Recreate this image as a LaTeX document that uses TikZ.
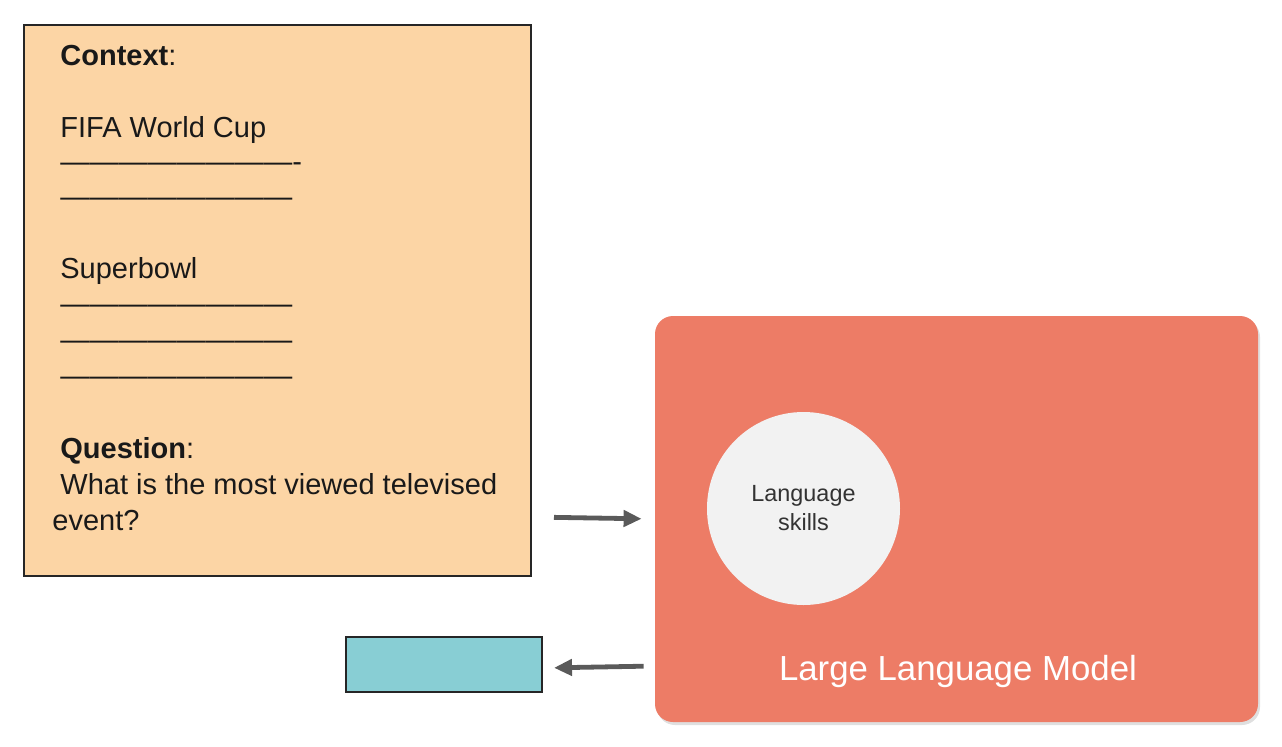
\documentclass[tikz,border=0pt]{standalone}
\usepackage{fontspec}
\setmainfont{Liberation Sans}
\usetikzlibrary{arrows.meta,shadows}

\definecolor{ctxfill}{HTML}{FCD5A5}
\definecolor{llmfill}{HTML}{ED7C66}
\definecolor{ansfill}{HTML}{88CED4}
\definecolor{skillfill}{HTML}{F2F2F2}
\definecolor{arrowgray}{HTML}{5A5A5A}

\tikzset{
	ctxline/.style={anchor=base west, inner sep=0pt, text=black!90,
		font=\fontsize{14.5}{18}\selectfont},
	flow/.style={draw=arrowgray, line width=2.4pt,
		-{Triangle[length=9pt,width=8pt]}},
}

\begin{document}
\begin{tikzpicture}[x=0.5pt,y=-0.5pt]
	\useasboundingbox (0,0) rectangle (1282,746);

	% prompt box
	\node[draw=black!85, line width=1pt, fill=ctxfill, minimum width=253.5pt,
		minimum height=275.5pt, inner sep=0pt] (ctx) at (277.5,300.5) {};
	\node[ctxline] (ctxhead) at (60,65) {\textbf{Context}:};
	\node[ctxline] (fifa) at (60,137) {FIFA World Cup};
	\node[ctxline] (fifa1) at (60,171) {————————-};
	\node[ctxline] (fifa2) at (60,206) {————————};
	\node[ctxline] (bowl) at (60,278) {Superbowl};
	\foreach \y [count=\i] in {313,349,385}
		\node[ctxline] (bowl\i) at (60,\y) {————————};
	\node[ctxline] (qhead) at (60,458) {\textbf{Question}:};
	\node[ctxline] (q1) at (60,494) {What is the most viewed televised};
	\node[ctxline] (q2) at (52,530) {event?};

	% model
	\node[fill=llmfill, rounded corners=9pt, minimum width=301.5pt,
		minimum height=203pt, inner sep=0pt,
		drop shadow={shadow xshift=1pt, shadow yshift=-1.5pt, opacity=0.25}]
		(llm) at (956.5,519) {};
	\node[circle, fill=skillfill, minimum size=96.5pt, inner sep=0pt,
		align=center, text=black!80,
		font=\fontsize{11.7}{14.5}\selectfont] (skill) at (803.5,508.5)
		{Language\\skills};
	\node[anchor=base, inner sep=0pt, text=white,
		font=\fontsize{17.4}{20}\selectfont] (llmname) at (958,680)
		{Large Language Model};

	% answer
	\node[draw=black!85, line width=1pt, fill=ansfill, minimum width=98pt,
		minimum height=27.5pt, inner sep=0pt] (ans) at (444,664.5) {};

	\draw[flow, shorten <=11pt, shorten >=6.5pt]
		(ctx.east |- 0,517) -- (llm.west |- 0,519);
	\draw[flow, shorten <=5.5pt, shorten >=5.5pt]
		(llm.west |- 0,666) -- (ans.east |- 0,668);
\end{tikzpicture}
\end{document}
